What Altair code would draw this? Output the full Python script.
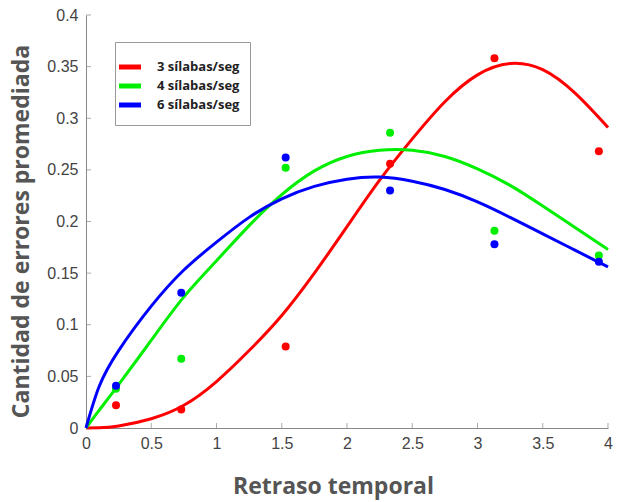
import altair as alt
import pandas as pd

series = ["3 sílabas/seg", "4 sílabas/seg", "6 sílabas/seg"]
colors = ["#ff0000", "#00ee00", "#0000ff"]

# measured points
pt_x = [0.23, 0.73, 1.53, 2.33, 3.13, 3.93]
red_pts = [0.022, 0.018, 0.079, 0.256, 0.358, 0.268]
green_pts = [0.038, 0.067, 0.252, 0.286, 0.191, 0.167]
blue_pts = [0.041, 0.131, 0.262, 0.230, 0.178, 0.161]

# fitted curves
curve_x = [0, 0.1, 0.25, 0.5, 0.75, 1.0, 1.25, 1.5, 1.75, 2.0, 2.25, 2.5,
           2.75, 3.0, 3.25, 3.5, 3.75, 4.0]
red_curve = [0, 0.0003, 0.002, 0.009, 0.022, 0.045, 0.075, 0.109, 0.150,
             0.195, 0.240, 0.280, 0.316, 0.342, 0.353, 0.347, 0.324, 0.291]
green_curve = [0, 0.017, 0.042, 0.085, 0.127, 0.162, 0.196, 0.226, 0.249,
               0.263, 0.269, 0.269, 0.263, 0.251, 0.235, 0.215, 0.194, 0.173]
blue_curve = [0, 0.040, 0.075, 0.118, 0.153, 0.180, 0.204, 0.222, 0.234,
              0.241, 0.243, 0.239, 0.231, 0.219, 0.204, 0.188, 0.172, 0.156]

x_ticks = [0, 0.5, 1, 1.5, 2, 2.5, 3, 3.5, 4]
y_ticks = [0, 0.05, 0.1, 0.15, 0.2, 0.25, 0.3, 0.35, 0.4]

pts = pd.DataFrame({
    "x": pt_x * 3,
    "y": red_pts + green_pts + blue_pts,
    "s": [series[0]] * 6 + [series[1]] * 6 + [series[2]] * 6,
})
n = len(curve_x)
curves = pd.DataFrame({
    "x": curve_x * 3,
    "y": red_curve + green_curve + blue_curve,
    "s": [series[0]] * n + [series[1]] * n + [series[2]] * n,
})

xs = alt.Scale(domain=[0, 4], nice=False)
ys = alt.Scale(domain=[0, 0.4], nice=False)
cs = alt.Scale(domain=series, range=colors)

x_axis = alt.Axis(values=x_ticks, format="~g", title="Retraso temporal",
                  labelPadding=7, titlePadding=24, labelFlush=False,
                  titleX=247)
y_axis = alt.Axis(values=y_ticks, format="~g",
                  title="Cantidad de errores promediada",
                  labelPadding=8, titlePadding=13, labelFlush=False,
                  titleY=216)

lines = alt.Chart(curves).mark_line(strokeWidth=3, interpolate="natural").encode(
    x=alt.X("x:Q", scale=xs, axis=x_axis),
    y=alt.Y("y:Q", scale=ys, axis=y_axis),
    color=alt.Color("s:N", scale=cs, sort=series, legend=alt.Legend(
        title=" ", titleFontSize=7, titlePadding=0,
        orient="none", legendX=29, legendY=27,
        symbolType="M-2,0H2", symbolStrokeWidth=5, symbolSize=121,
        labelFont="Open Sans", labelFontWeight="bold", labelFontSize=13,
        labelColor="#222", padding=10, strokeColor="#999", fillColor="white",
        rowPadding=-1, labelOffset=19, symbolOffset=-3)),
    detail="s:N",
)

points = alt.Chart(pts).mark_circle(size=64, opacity=1).encode(
    x=alt.X("x:Q", scale=xs),
    y=alt.Y("y:Q", scale=ys),
    color=alt.Color("s:N", scale=cs, legend=None),
)

xt = alt.Chart(pd.DataFrame({"v": x_ticks})).mark_tick(
    orient="vertical", size=5, thickness=1, yOffset=-2.5, color="#888").encode(
    x=alt.X("v:Q", scale=xs), y=alt.datum(0, scale=ys))
yt = alt.Chart(pd.DataFrame({"v": y_ticks})).mark_tick(
    orient="horizontal", size=5, thickness=1, xOffset=2.5, color="#888").encode(
    y=alt.Y("v:Q", scale=ys), x=alt.datum(0, scale=xs))

chart = alt.layer(xt, yt, lines, points).properties(
    width=522, height=413,
    background="white",
    autosize=alt.AutoSizeParams(type="none"),
    padding={"left": 86, "top": 15, "right": 11, "bottom": 74},
).configure_view(stroke=None).configure_axis(
    grid=False, ticks=False, domainColor="#888", domainWidth=1,
    labelFont="Liberation Sans", labelFontSize=16, labelColor="#444",
    titleFont="Open Sans", titleFontWeight="bold", titleFontSize=23,
    titleColor="#555",
)

chart.save("out.html", embed_options={"renderer": "svg", "actions": False})
